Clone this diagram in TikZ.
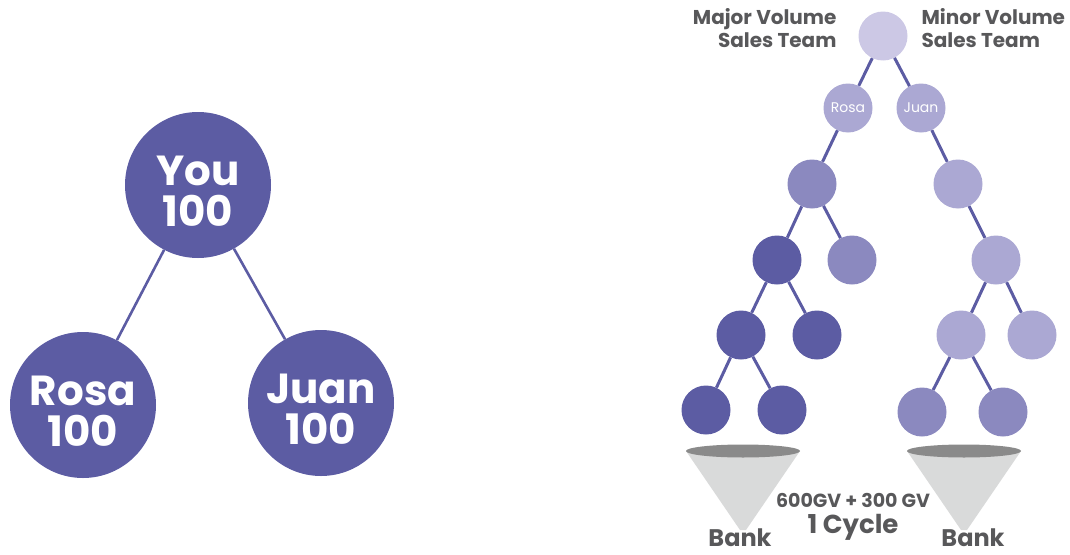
\documentclass[tikz,border=0pt]{standalone}
\usepackage{fontspec}
\newfontfamily\pop{Poppins}
\definecolor{navy}{HTML}{5C5CA3}
\definecolor{mauve}{HTML}{8B89BF}
\definecolor{lilac}{HTML}{ABA8D3}
\definecolor{pale}{HTML}{CCC8E5}
\definecolor{ink}{HTML}{58585A}
\definecolor{rim}{HTML}{8A8A8A}
\definecolor{cone}{HTML}{D9DADA}
\tikzset{
  big/.style={circle,fill=navy,minimum size=146pt,inner sep=0pt},
  bigtext/.style={text=white,align=center,inner sep=0pt,
    font=\pop\bfseries\fontsize{42}{41}\selectfont},
  dot/.style={circle,minimum size=49pt,inner sep=0pt,text=white,font=\pop\fontsize{14}{16}\selectfont},
  link/.style={draw=navy,line width=2.6pt},
  tlink/.style={draw=navy,line width=3pt},
  caption/.style={text=ink,font=\pop\bfseries\fontsize{20}{23}\selectfont},
  banklabel/.style={text=ink,anchor=base,inner sep=0pt,font=\pop\bfseries\fontsize{24}{26}\selectfont}
}
\begin{document}
\begin{tikzpicture}[x=1pt,y=-1pt]
\useasboundingbox (0,0) rectangle (1070,554);

% ---- simple three-person tree ----
\node[big] (you)  at (198,185) {};
\node[big] (rosa) at (83,405)  {};
\node[big] (juan) at (321,403) {};
\node[bigtext] (youtxt)  at (198,191) {You\\100};
\node[bigtext] (rosatxt) at (83,411)  {Rosa\\100};
\node[bigtext] (juantxt) at (321,409) {Juan\\100};
\draw[link] (you) -- (rosa);
\draw[link] (you) -- (juan);

% ---- binary team tree ----
\node[dot,fill=pale]  (top) at (883,36) {};
\node[dot,fill=lilac] (r1)  at (848,108) {Rosa};
\node[dot,fill=lilac] (j1)  at (921,108) {Juan};
\node[dot,fill=mauve] (l2)  at (812,184) {};
\node[dot,fill=lilac] (m2)  at (958,184) {};
\node[dot,fill=navy]  (l3a) at (777,260) {};
\node[dot,fill=mauve] (l3b) at (852,260) {};
\node[dot,fill=lilac] (m3)  at (996,260) {};
\node[dot,fill=navy]  (l4a) at (741,335) {};
\node[dot,fill=navy]  (l4b) at (817,335) {};
\node[dot,fill=lilac] (m4a) at (961,335) {};
\node[dot,fill=lilac] (m4b) at (1032,335) {};
\node[dot,fill=navy]  (l5a) at (706,410) {};
\node[dot,fill=navy]  (l5b) at (782,410) {};
\node[dot,fill=mauve] (m5a) at (922,412) {};
\node[dot,fill=mauve] (m5b) at (1003,412) {};

\draw[tlink] (top) -- (r1);
\draw[tlink] (top) -- (j1);
\draw[tlink] (r1) -- (l2);
\draw[tlink] (j1) -- (m2);
\draw[tlink] (l2) -- (l3a);
\draw[tlink] (l2) -- (l3b);
\draw[tlink] (m2) -- (m3);
\draw[tlink] (l3a) -- (l4a);
\draw[tlink] (l3a) -- (l4b);
\draw[tlink] (m3) -- (m4a);
\draw[tlink] (m3) -- (m4b);
\draw[tlink] (l4a) -- (l5a);
\draw[tlink] (l4a) -- (l5b);
\draw[tlink] (m4a) -- (m5a);
\draw[tlink] (m4a) -- (m5b);

% team captions
\node[caption,anchor=north east,align=right] (major) at (840,5) {Major Volume\\Sales Team};
\node[caption,anchor=north west,align=left]  (minor) at (918,5) {Minor Volume\\Sales Team};

% ---- funnels ----
\fill[cone] (686,451) -- (740,530) -- (746,530) -- (800,451) -- cycle;
\fill[rim] (743,451) ellipse [x radius=57, y radius=6.5];
\fill[cone] (907,451) -- (961,530) -- (967,530) -- (1021,451) -- cycle;
\fill[rim] (964,451) ellipse [x radius=57, y radius=6.5];

\node[banklabel] (bank1) at (740,546) {Bank};
\node[banklabel] (bank2) at (973,546) {Bank};
\node[text=ink,anchor=base,font=\pop\bfseries\fontsize{19}{21}\selectfont] (sum) at (853,507) {600GV + 300 GV};
\node[text=ink,anchor=base,font=\pop\bfseries\fontsize{26}{28}\selectfont] (cycle) at (853,533) {1 Cycle};
\end{tikzpicture}
\end{document}
